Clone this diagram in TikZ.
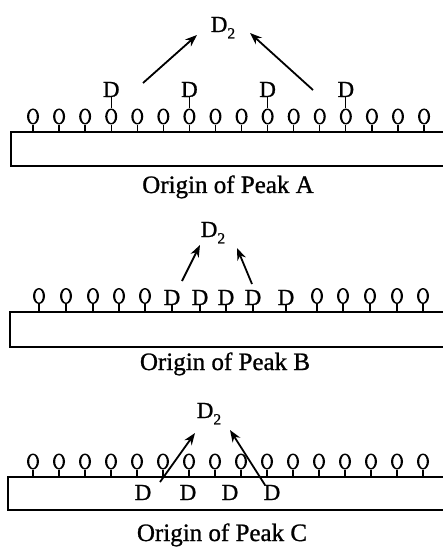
\documentclass[tikz,border=0pt]{standalone}
\usepackage{fontspec}
\setmainfont{Liberation Serif}[FakeBold=1]
\usetikzlibrary{shapes.geometric,arrows.meta}
% D with a lowered subscript 2 at a size that follows the surrounding text
\newcommand{\dimol}{D\raisebox{-0.28em}{\fontsize{15.5}{15.5}\selectfont 2}}
\begin{document}
\begin{tikzpicture}[x=1pt,y=-1pt,
  slab/.style={line width=1.8pt},
  site/.style={ellipse,minimum width=12pt,minimum height=16pt,inner sep=0pt},
  ring/.style={fill=black,even odd rule},
  stem/.style={line width=1.3pt},
  atom/.style={anchor=base,inner sep=0pt,font=\fontsize{23}{23}\selectfont},
  caption/.style={anchor=base,inner sep=0pt,font=\fontsize{25}{25}\selectfont},
  hop/.style={line width=1.8pt,-{Stealth[length=12pt,width=9pt]}}]
\useasboundingbox (0,0) rectangle (443,548);

% ---- Peak A: D atoms sitting on top of surface O atoms ----
\draw[slab] (450,132) -- (11,132) -- (11,166) -- (450,166);
\foreach \i in {0,...,15}{
  \node[site] (oa\i) at ({33+26.07*\i},116.5) {};
  \path[ring] (oa\i.center) ellipse [x radius=6pt,y radius=8pt]
              (oa\i.center) ellipse [x radius=3.8pt,y radius=6.6pt];
  \coordinate (ta\i) at ({33+26.07*\i},132);
  \draw[stem] (oa\i.south) -- (ta\i);
}
\foreach \i in {3,6,9,12}{
  \node[atom] (da\i) at ({33+26.07*\i},97) {D};
  \draw[stem] (da\i.base) -- (oa\i.north);
}
\node[atom] (d2a) at (223,32) {\dimol};
\coordinate (la) at (143,83);  \coordinate (lha) at (197,35);
\coordinate (ra) at (313,90);  \coordinate (rha) at (250,33);
\draw[hop] (la) -- (lha);
\draw[hop] (ra) -- (rha);
\node[caption] (capa) at (228,193) {Origin of Peak A};

% ---- Peak B: D atoms in surface sites ----
\draw[slab] (450,312) -- (10,312) -- (10,347) -- (450,347);
\foreach \x [count=\k] in {39,66,93,119,145,317,343,370,397,423}{
  \node[site] (ob\k) at (\x,296) {};
  \path[ring] (ob\k.center) ellipse [x radius=6pt,y radius=8pt]
              (ob\k.center) ellipse [x radius=3.8pt,y radius=6.6pt];
  \coordinate (tb\k) at (\x,312);
  \draw[stem] (ob\k.south) -- (tb\k);
}
\foreach \x [count=\k] in {172,200,226,253,286}{
  \node[atom] (db\k) at (\x,305) {D};
  \coordinate (sb\k) at (\x,312);
  \draw[stem] (db\k.base) -- (sb\k);
}
\node[atom] (d2b) at (213,237) {\dimol};
\coordinate (lb) at (182,281); \coordinate (lhb) at (200,245);
\coordinate (rb) at (252,284); \coordinate (rhb) at (237,248);
\draw[hop] (lb) -- (lhb);
\draw[hop] (rb) -- (rhb);
\node[caption] (capb) at (225,370) {Origin of Peak B};

% ---- Peak C: D atoms below the surface ----
\draw[slab] (450,477) -- (8,477) -- (8,510) -- (450,510);
\foreach \i in {0,...,15}{
  \node[site] (oc\i) at ({33+26*\i},461.5) {};
  \path[ring] (oc\i.center) ellipse [x radius=6pt,y radius=8pt]
              (oc\i.center) ellipse [x radius=3.8pt,y radius=6.6pt];
  \coordinate (tc\i) at ({33+26*\i},477);
  \draw[stem] (oc\i.south) -- (tc\i);
}
\foreach \x [count=\k] in {143,188,230,272}{
  \node[atom] (dc\k) at (\x,500) {D};
}
\node[atom] (d2c) at (209,418) {\dimol};
\coordinate (lc) at (160,482); \coordinate (lhc) at (195,433);
\coordinate (rc) at (265,485); \coordinate (rhc) at (230,430);
\draw[hop] (lc) -- (lhc);
\draw[hop] (rc) -- (rhc);
\node[caption] (capc) at (222,541) {Origin of Peak C};
\end{tikzpicture}
\end{document}
